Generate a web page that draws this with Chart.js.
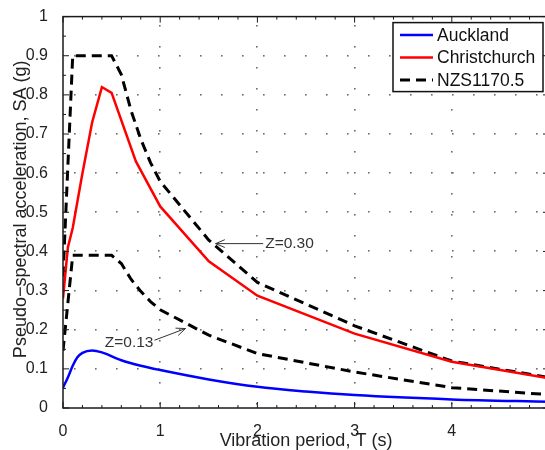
<!DOCTYPE html>
<html>
<head>
<meta charset="utf-8">
<script src="https://cdn.jsdelivr.net/npm/chart.js@4.4.1/dist/chart.umd.min.js"></script>
<style>
   html, body { margin: 0; padding: 0; background: #fff; overflow: hidden; }
   #wrap { width: 560px; height: 450px; }
</style>
</head>
<body>
<div id="wrap"><canvas id="chart" width="560" height="450"></canvas></div>
<script>
// Values
const periodAuckland = [0, 0.05, 0.1, 0.15, 0.2, 0.3, 0.4, 0.6, 0.8, 1, 1.5, 2, 2.5, 3, 4, 5];
const saAuckland = [0.052, 0.078, 0.108, 0.13, 0.141, 0.147, 0.142, 0.122, 0.108, 0.097, 0.073, 0.054, 0.042, 0.033, 0.022, 0.016];

const periodChristchurch = [0, 0.05, 0.1, 0.2, 0.3, 0.4, 0.5, 0.75, 1, 1.5, 2, 3, 4, 5];
const saChristchurch = [0.28, 0.41, 0.46, 0.6, 0.73, 0.82, 0.805, 0.63, 0.515, 0.375, 0.287, 0.19, 0.118, 0.076];

const periodNzs = [0, 0.1, 0.5, 0.6, 0.7, 0.8, 0.9, 1, 1.5, 2, 3, 4, 5];
const saNzsZ030 = [0.336, 0.9, 0.9, 0.852, 0.76, 0.687, 0.627, 0.579, 0.429, 0.321, 0.21, 0.12, 0.078];
const saNzsZ013 = [0.146, 0.39, 0.39, 0.369, 0.329, 0.298, 0.272, 0.251, 0.186, 0.139, 0.092, 0.052, 0.034];

const xTicks = [0, 1, 2, 3, 4, 5];
const yTicks = [0, 0.1, 0.2, 0.3, 0.4, 0.5, 0.6, 0.7, 0.8, 0.9, 1];

const zoneLabels = ['Z=0.30', 'Z=0.13'];
const zoneLabelAt = [[2.08, 0.42], [0.43, 0.168]];
const zoneArrowTip = [[1.57, 0.42], [1.26, 0.203]];

const FONT = '"Liberation Sans", Arial, sans-serif';

function toPoints(xs, ys){
   return xs.map((x, i) => ({x: x, y: ys[i]}));
}

// dotted grid like matlab's "grid on" with ':' lines
const dottedGrid = {
   id: 'dottedGrid',
   beforeDatasetsDraw(chart){
      const ctx = chart.ctx;
      const area = chart.chartArea;
      ctx.save();
      ctx.beginPath();
      ctx.rect(area.left, area.top, area.right - area.left, area.bottom - area.top);
      ctx.clip();
      ctx.fillStyle = '#6e6e6e';
      xTicks.forEach((v) => {
         let px = Math.round(chart.scales.x.getPixelForValue(v));
         if(px <= area.left + 1 || px >= area.right - 1) return;
         for(let py = area.top + 8; py < area.bottom - 2; py += 21){
            ctx.fillRect(px - 1, Math.round(py), 1.6, 1.6);
         }
      });
      yTicks.forEach((v) => {
         let py = Math.round(chart.scales.y.getPixelForValue(v));
         if(py <= area.top + 1 || py >= area.bottom - 1) return;
         for(let px = area.left + 11; px < area.right - 2; px += 21){
            ctx.fillRect(Math.round(px), py - 1, 1.6, 1.6);
         }
      });
      ctx.restore();
   }
};

// axis box, inward ticks, titles, legend and the zone arrows
const matlabLook = {
   id: 'matlabLook',
   afterDatasetsDraw(chart){
      const ctx = chart.ctx;
      const area = chart.chartArea;
      const xs = chart.scales.x;
      const ys = chart.scales.y;
      ctx.save();

      // zone annotations
      ctx.strokeStyle = '#333';
      ctx.fillStyle = '#333';
      ctx.lineWidth = 1;
      ctx.font = '15.5px ' + FONT;
      ctx.textBaseline = 'middle';
      zoneLabels.forEach((label, i) => {
         let tx = xs.getPixelForValue(zoneLabelAt[i][0]);
         let ty = ys.getPixelForValue(zoneLabelAt[i][1]);
         let ax = xs.getPixelForValue(zoneArrowTip[i][0]);
         let ay = ys.getPixelForValue(zoneArrowTip[i][1]);
         ctx.textAlign = 'left';
         ctx.fillText(label, tx, ty);
         let w = ctx.measureText(label).width;
         // start the arrow at the nearest side of the text
         let sx = ax < tx ? tx - 2 : tx + w + 1;
         let sy = ty - (ax < tx ? 0 : 2);
         ctx.beginPath();
         ctx.moveTo(sx, sy);
         ctx.lineTo(ax, ay);
         ctx.stroke();
         let ang = Math.atan2(ay - sy, ax - sx);
         ctx.beginPath();
         ctx.moveTo(ax - 10 * Math.cos(ang - 0.4), ay - 10 * Math.sin(ang - 0.4));
         ctx.lineTo(ax, ay);
         ctx.lineTo(ax - 10 * Math.cos(ang + 0.4), ay - 10 * Math.sin(ang + 0.4));
         ctx.stroke();
      });

      // axis box
      ctx.strokeStyle = '#1a1a1a';
      ctx.lineWidth = 1.5;
      ctx.strokeRect(area.left, area.top, area.right - area.left, area.bottom - area.top);

      // inward ticks, major and minor
      ctx.lineWidth = 1;
      ctx.beginPath();
      for(let i = 0; i <= 25; i++){
         let v = i * 0.2;
         let px = xs.getPixelForValue(v);
         let len = (i % 5 == 0) ? 6 : 3;
         ctx.moveTo(px, area.bottom); ctx.lineTo(px, area.bottom - len);
         ctx.moveTo(px, area.top); ctx.lineTo(px, area.top + len);
      }
      for(let i = 0; i <= 20; i++){
         let v = i * 0.05;
         let py = ys.getPixelForValue(v);
         let len = (i % 2 == 0) ? 6 : 3;
         ctx.moveTo(area.left, py); ctx.lineTo(area.left + len, py);
         ctx.moveTo(area.right, py); ctx.lineTo(area.right - len, py);
      }
      ctx.stroke();

      // axis titles
      ctx.fillStyle = '#222';
      ctx.font = '18px ' + FONT;
      ctx.textAlign = 'center';
      ctx.textBaseline = 'middle';
      ctx.fillText('Vibration period, T (s)', (area.left + area.right) / 2, 441);
      ctx.save();
      ctx.translate(21, (area.top + area.bottom) / 2 - 3);
      ctx.rotate(-Math.PI / 2);
      ctx.fillText('Pseudo\u2212spectral acceleration, SA (g)', 0, 0);
      ctx.restore();

      // legend box in the top right corner
      let entries = chart.data.datasets.filter(d => !d.hideInLegend);
      let boxRight = area.right - 6;
      let boxLeft = boxRight - 150;
      let boxTop = area.top + 6;
      let boxBottom = boxTop + 69;
      ctx.fillStyle = '#fff';
      ctx.fillRect(boxLeft, boxTop, boxRight - boxLeft, boxBottom - boxTop);
      ctx.strokeStyle = '#111';
      ctx.lineWidth = 1.5;
      ctx.strokeRect(boxLeft, boxTop, boxRight - boxLeft, boxBottom - boxTop);
      ctx.font = '17.5px ' + FONT;
      ctx.textAlign = 'left';
      entries.forEach((d, i) => {
         let y = boxTop + 12.5 + i * 22.5;
         ctx.strokeStyle = d.borderColor;
         ctx.lineWidth = d.borderWidth;
         ctx.setLineDash(d.borderDash || []);
         ctx.beginPath();
         ctx.moveTo(boxLeft + 7, y);
         ctx.lineTo(boxLeft + 40, y);
         ctx.stroke();
         ctx.setLineDash([]);
         ctx.fillStyle = '#111';
         ctx.fillText(d.label, boxLeft + 44, y + 1);
      });

      ctx.restore();
   }
};

new Chart(document.getElementById('chart').getContext('2d'), {
   type: 'line',
   data: {
      datasets: [{
         label: 'Auckland',
         data: toPoints(periodAuckland, saAuckland),
         borderColor: '#0000ff',
         borderWidth: 2.5,
         cubicInterpolationMode: 'monotone',
         pointRadius: 0
      }, {
         label: 'Christchurch',
         data: toPoints(periodChristchurch, saChristchurch),
         borderColor: '#ff0000',
         borderWidth: 2.5,
         tension: 0,
         pointRadius: 0
      }, {
         label: 'NZS1170.5',
         data: toPoints(periodNzs, saNzsZ030),
         borderColor: '#000',
         borderWidth: 3,
         borderDash: [10, 6],
         tension: 0,
         pointRadius: 0
      }, {
         label: 'NZS1170.5 Z=0.13',
         hideInLegend: true,
         data: toPoints(periodNzs, saNzsZ013),
         borderColor: '#000',
         borderWidth: 3,
         borderDash: [10, 6],
         tension: 0,
         pointRadius: 0
      }]
   },
   options: {
      responsive: false,
      animation: false,
      devicePixelRatio: 1,
      layout: { padding: { left: 0, top: 14, right: 11, bottom: 0 } },
      plugins: { legend: { display: false }, tooltip: { enabled: false } },
      scales: {
         x: {
            type: 'linear',
            min: 0,
            max: 5,
            afterBuildTicks: (scale) => { scale.ticks = xTicks.map(v => ({value: v})); },
            afterFit: (scale) => { scale.height = 42; },
            grid: { display: false },
            border: { display: false },
            ticks: { color: '#222', padding: 6, font: { family: FONT, size: 16 }, maxRotation: 0 }
         },
         y: {
            min: 0,
            max: 1,
            afterBuildTicks: (scale) => { scale.ticks = yTicks.map(v => ({value: v})); },
            afterFit: (scale) => { scale.width = 63; },
            grid: { display: false },
            border: { display: false },
            ticks: {
               color: '#222',
               padding: 7,
               font: { family: FONT, size: 16 },
               callback: (v) => String(Number(v.toFixed(2)))
            }
         }
      }
   },
   plugins: [dottedGrid, matlabLook]
});
</script>
</body>
</html>
